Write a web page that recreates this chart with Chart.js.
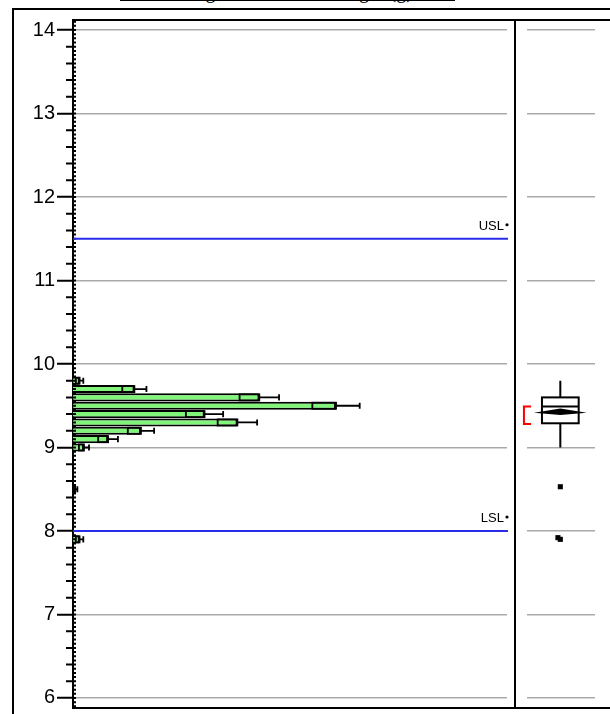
<!DOCTYPE html>
<html>
<head>
<meta charset="utf-8">
<script src="https://cdn.jsdelivr.net/npm/chart.js@4.4.0/dist/chart.umd.min.js"></script>
<style>
    html, body { margin: 0; padding: 0; background: #fff; overflow: hidden; width: 610px; height: 714px; }
    #title {
        position: absolute; left: 120px; top: -19px; width: 335px; height: 19px;
        line-height: 20px; font-size: 20px; font-family: "Liberation Serif", serif;
        text-align: center; white-space: nowrap; border-bottom: 1.5px solid #000;
    }
    .line { position: absolute; background: #000; z-index: 5; }
    #histWrap { position: absolute; left: 0; top: 0; }
    #boxWrap { position: absolute; left: 515px; top: 0; }
</style>
</head>
<body>
<div id="title">Histogram of Tablet Weight (g)</div>

<!-- outer frame and panel borders -->
<div class="line" style="left:12px; top:8px; width:2px; height:710px;"></div>
<div class="line" style="left:12px; top:8px; width:600px; height:2px;"></div>
<div class="line" style="left:72px; top:19px; width:540px; height:2px;"></div>
<div class="line" style="left:72px; top:707px; width:540px; height:2px;"></div>
<div class="line" style="left:514px; top:19px; width:2px; height:690px;"></div>

<div id="histWrap"><canvas id="hist" width="515" height="724"></canvas></div>
<div id="boxWrap"><canvas id="box" width="95" height="724"></canvas></div>

<script>
// ---- data ----
var binCenters = [9.8, 9.7, 9.6, 9.5, 9.4, 9.3, 9.2, 9.1, 9.0, 8.5, 7.9];
var binCounts  = [3, 28, 85, 120, 60, 75, 31, 16, 5, 1, 3];
var binStdErr  = [1.7, 5.5, 9, 10.8, 8.5, 9, 6, 4.5, 2.3, 1, 1.7];
var yTickValues = [6, 7, 8, 9, 10, 11, 12, 13, 14];
var specNames  = ['USL', 'LSL'];
var specValues = [11.5, 8.0];

// box plot: whisker low, Q1, median, Q3, whisker high
var boxFive = [9.0, 9.29, 9.49, 9.6, 9.8];
// mean diamond: mean, lower, upper
var meanDiamond = [9.42, 9.40, 9.455];
var shortestHalf = [9.28, 9.49];
var outlierValues = [8.53, 7.92, 7.9];
var outlierX = [0.49, 0.455, 0.49];

var Y_MIN = 5.88, Y_MAX = 14.12;
var FONT = '"Liberation Sans", Arial, sans-serif';

function setIntegerTicks(scale) {
    scale.ticks = yTickValues.map(function (v) { return { value: v }; });
}

// std err bars, minor ticks and spec limit lines on the histogram
var histExtras = {
    id: 'histExtras',
    afterDatasetsDraw: function (chart) {
        var ctx = chart.ctx, xs = chart.scales.x, ys = chart.scales.y, area = chart.chartArea;
        var bars = chart.getDatasetMeta(0).data;
        ctx.save();
        ctx.strokeStyle = '#000';
        ctx.lineWidth = 1.8;
        bars.forEach(function (bar, i) {
            var n = binCounts[i], e = binStdErr[i];
            var x0 = xs.getPixelForValue(Math.max(0, n - e));
            var x1 = xs.getPixelForValue(n);
            var x2 = xs.getPixelForValue(n + e);
            var h = bar.height, yc = bar.y;
            ctx.strokeRect(x0, yc - h / 2 + 1, x1 - x0, h - 2);
            ctx.beginPath();
            ctx.moveTo(x1, yc); ctx.lineTo(x2, yc);
            ctx.moveTo(x2, yc - h / 2 + 1); ctx.lineTo(x2, yc + h / 2 - 1);
            ctx.stroke();
        });

        // medium ticks every 0.2
        ctx.lineWidth = 2;
        ctx.beginPath();
        for (var k = 30; k <= 70; k++) {
            if (k % 5 === 0) continue;
            var y = ys.getPixelForValue(k / 5);
            ctx.moveTo(area.left - 7, y); ctx.lineTo(area.left, y);
        }
        ctx.stroke();
        // small dots every 0.05 inside the axis
        ctx.lineWidth = 2;
        ctx.beginPath();
        for (var j = 118; j <= 282; j++) {
            var yy = ys.getPixelForValue(j / 20);
            ctx.moveTo(area.left, yy); ctx.lineTo(area.left + 3, yy);
        }
        ctx.stroke();

        // spec limits
        specValues.forEach(function (v, i) {
            var y = ys.getPixelForValue(v);
            ctx.strokeStyle = '#2b2bea';
            ctx.lineWidth = 2;
            ctx.beginPath();
            ctx.moveTo(area.left, y); ctx.lineTo(area.right + 1, y);
            ctx.stroke();
            ctx.fillStyle = '#000';
            ctx.font = '13px ' + FONT;
            ctx.textAlign = 'right';
            ctx.textBaseline = 'alphabetic';
            ctx.fillText(specNames[i], area.right - 3, y - 9);
            ctx.beginPath();
            ctx.arc(area.right, y - 14, 1.6, 0, Math.PI * 2);
            ctx.fill();
        });
        ctx.restore();
    }
};

// outlier box plot in the right panel
var boxPlot = {
    id: 'boxPlot',
    beforeDatasetsDraw: function (chart) {
        var ctx = chart.ctx, xs = chart.scales.x, ys = chart.scales.y;
        var xc = xs.getPixelForValue(0.49);
        var xl = xs.getPixelForValue(0.49 - 0.27);
        var xr = xs.getPixelForValue(0.49 + 0.27);
        var yLo = ys.getPixelForValue(boxFive[0]);
        var yQ1 = ys.getPixelForValue(boxFive[1]);
        var yMed = ys.getPixelForValue(boxFive[2]);
        var yQ3 = ys.getPixelForValue(boxFive[3]);
        var yHi = ys.getPixelForValue(boxFive[4]);
        ctx.save();
        ctx.strokeStyle = '#000';
        ctx.lineWidth = 2;
        ctx.beginPath();
        ctx.moveTo(xc, yHi); ctx.lineTo(xc, yQ3);
        ctx.moveTo(xc, yQ1); ctx.lineTo(xc, yLo);
        ctx.stroke();
        ctx.fillStyle = '#fff';
        ctx.fillRect(xl, yQ3, xr - xl, yQ1 - yQ3);
        ctx.strokeRect(xl, yQ3, xr - xl, yQ1 - yQ3);
        ctx.beginPath();
        ctx.moveTo(xl, yMed); ctx.lineTo(xr, yMed);
        ctx.stroke();
        // mean diamond
        var yM = ys.getPixelForValue(meanDiamond[0]);
        var yD = ys.getPixelForValue(meanDiamond[1]);
        var yU = ys.getPixelForValue(meanDiamond[2]);
        ctx.fillStyle = '#000';
        ctx.beginPath();
        ctx.moveTo(xl, yM); ctx.lineTo(xc, yU); ctx.lineTo(xr, yM); ctx.lineTo(xc, yD); ctx.closePath();
        ctx.fill();
        ctx.stroke();
        // shortest half bracket
        var bx0 = xs.getPixelForValue(-0.045), bx1 = xs.getPixelForValue(0.06);
        var bTop = ys.getPixelForValue(shortestHalf[1]), bBot = ys.getPixelForValue(shortestHalf[0]);
        ctx.strokeStyle = '#ff0000';
        ctx.beginPath();
        ctx.moveTo(bx1, bTop); ctx.lineTo(bx0, bTop); ctx.lineTo(bx0, bBot); ctx.lineTo(bx1, bBot);
        ctx.stroke();
        ctx.restore();
    }
};

document.addEventListener('DOMContentLoaded', function () {
    new Chart(document.getElementById('hist'), {
        type: 'bar',
        data: {
            datasets: [{
                data: binCenters.map(function (b, i) { return { x: binCounts[i], y: b }; }),
                backgroundColor: '#80f57a',
                borderColor: '#000',
                borderWidth: 2,
                barPercentage: 0.97,
                categoryPercentage: 1
            }]
        },
        options: {
            indexAxis: 'y',
            responsive: false,
            animation: false,
            events: [],
            layout: { padding: { top: 20, bottom: 16, left: 0, right: 8 } },
            plugins: { legend: { display: false }, tooltip: { enabled: false } },
            scales: {
                x: { type: 'linear', display: false, min: 0, max: 198 },
                y: {
                    type: 'linear', min: Y_MIN, max: Y_MAX, offset: false,
                    afterBuildTicks: setIntegerTicks,
                    afterFit: function (s) { s.width = 73; },
                    ticks: { padding: 2, color: '#000', font: { family: FONT, size: 20 },
                             callback: function (v) { return String(v); } },
                    grid: { offset: false, color: '#a9a9a9', lineWidth: 1.5, tickColor: '#000', tickWidth: 2, tickLength: 16 },
                    border: { color: '#000', width: 2 }
                }
            }
        },
        plugins: [histExtras]
    });

    new Chart(document.getElementById('box'), {
        type: 'scatter',
        data: {
            datasets: [{
                data: outlierValues.map(function (v, i) { return { x: outlierX[i], y: v }; }),
                pointStyle: 'rect',
                pointRadius: 3.6,
                backgroundColor: '#000',
                borderColor: '#000',
                borderWidth: 0
            }]
        },
        options: {
            responsive: false,
            animation: false,
            events: [],
            layout: { padding: { top: 20, bottom: 16, left: 12, right: 15 } },
            plugins: { legend: { display: false }, tooltip: { enabled: false } },
            scales: {
                x: { type: 'linear', display: false, min: 0, max: 1 },
                y: {
                    type: 'linear', min: Y_MIN, max: Y_MAX,
                    afterBuildTicks: setIntegerTicks,
                    afterFit: function (s) { s.width = 0; },
                    ticks: { display: false },
                    grid: { color: '#a9a9a9', lineWidth: 1.5, drawTicks: false },
                    border: { display: false }
                }
            }
        },
        plugins: [boxPlot]
    });
});
</script>
</body>
</html>
